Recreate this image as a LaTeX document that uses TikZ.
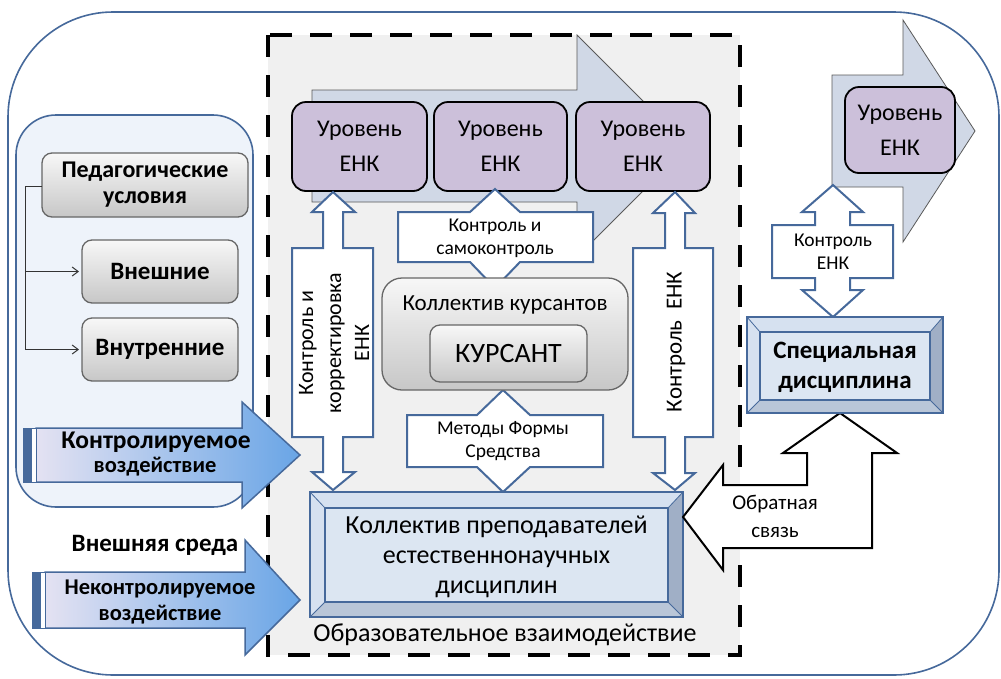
\documentclass[tikz,border=0pt]{standalone}
\usepackage{fontspec}
\setmainfont{Carlito}
\usetikzlibrary{arrows.meta,calc}
\definecolor{bl}{RGB}{70,105,155}
\definecolor{lav}{RGB}{204,192,218}
\definecolor{arrfill}{RGB}{208,216,230}
\definecolor{panel}{RGB}{238,243,250}
\definecolor{bevL}{RGB}{214,225,240}
\definecolor{bevR}{RGB}{160,175,198}
\definecolor{bevB}{RGB}{185,198,216}
\definecolor{innerbl}{RGB}{220,230,242}
\definecolor{blueA}{RGB}{105,165,230}
\definecolor{blueB}{RGB}{228,226,242}
\newcommand\fz[2]{\fontsize{#1}{#2}\selectfont}
\newcommand\mybevel[9]{%
  \fill[bevL] (#1,#2) -- (#3,#2) -- (#7,#6) -- (#5,#6) -- cycle;
  \fill[bevL] (#1,#2) -- (#5,#6) -- (#5,#8) -- (#1,#4) -- cycle;
  \fill[bevR] (#3,#2) -- (#3,#4) -- (#7,#8) -- (#7,#6) -- cycle;
  \fill[bevB] (#1,#4) -- (#3,#4) -- (#7,#8) -- (#5,#8) -- cycle;
  \draw[bl,line width=0.8pt] (#1,#2) -- (#5,#6) (#3,#2) -- (#7,#6) (#3,#4) -- (#7,#8) (#1,#4) -- (#5,#8);
  \draw[bl,line width=2pt] (#1,#2) rectangle (#3,#4);
  \draw[bl,line width=2pt,fill=innerbl] (#5,#6) rectangle (#7,#8);
  \coordinate (#9) at ($(#1,#2)!0.5!(#3,#4)$);
}
\tikzset{
  lvlbox/.style={draw=black, line width=1.8pt, fill=lav, rounded corners=14pt,
    inner sep=0pt, outer sep=0pt, align=center, font=\fz{24}{35}\selectfont},
  graybox/.style={draw=black!60, line width=1.3pt, rounded corners=10pt,
    top color=black!3, bottom color=black!22, inner sep=0pt, outer sep=0pt,
    align=center},
  bigarrow/.style={fill=arrfill, draw=black!65, line width=0.8pt},
  dblarrow/.style={fill=white, draw=bl, line width=2pt, line join=miter},
  bluearrow/.style={left color=blueB, right color=blueA, draw=bl, line width=1.5pt},
  txt/.style={inner sep=0pt, align=center},
}
\begin{document}
\begin{tikzpicture}[x=1pt,y=-1pt]
\useasboundingbox (0,0) rectangle (1001,678);
% outer frame
\draw[bl, line width=1.6pt, fill=white, rounded corners=105pt] (8,12) rectangle (999,675);
% left panel
\draw[bl, line width=1.6pt, fill=panel, rounded corners=40pt] (16,115) rectangle (253,507);
% dashed area
\fill[black!6] (268,35) rectangle (740,655);
\draw[black, line width=4pt, dash pattern=on 22pt off 18pt] (268,35) rectangle (740,655);
% big background arrows
\draw[bigarrow] (312,90) -- (577,90) -- (577,35) -- (688,146) -- (577,257) -- (577,202) -- (312,202) -- cycle;
\draw[bigarrow] (832,75) -- (903,75) -- (903,20) -- (975,131) -- (903,242) -- (903,187) -- (832,187) -- cycle;
% level boxes
\node[lvlbox, minimum width=135pt, minimum height=89pt] (lvl1) at (359.5,146.5) {Уровень\\ЕНК};
\node[lvlbox, minimum width=133pt, minimum height=89pt] (lvl2) at (500.5,146.5) {Уровень\\ЕНК};
\node[lvlbox, minimum width=134pt, minimum height=89pt] (lvl3) at (643,146.5) {Уровень\\ЕНК};
\node[lvlbox, minimum width=110pt, minimum height=86pt] (lvl4) at (900,130) {Уровень\\ЕНК};
% double arrows inside
\draw[dblarrow] (333,192) -- (355,212) -- (343,212) -- (343,248) -- (373,248) -- (373,437) -- (343,437) -- (343,472) -- (355,472) -- (333,490) -- (312,472) -- (323,472) -- (323,437) -- (292,437) -- (292,248) -- (323,248) -- (323,212) -- (312,212) -- cycle;
\node[txt, rotate=90, font=\fz{22}{28}\selectfont] (kk) at (334,343) {Контроль и\\корректировка\\ЕНК};
\draw[dblarrow] (675,192) -- (695,213) -- (685,213) -- (685,248) -- (713,248) -- (713,437) -- (685,437) -- (685,473) -- (695,473) -- (675,490) -- (653,473) -- (665,473) -- (665,437) -- (633,437) -- (633,248) -- (665,248) -- (665,213) -- (653,213) -- cycle;
\node[txt, rotate=90, font=\fz{23}{28}\selectfont] (ke) at (676,342) {Контроль\ \ ЕНК};
\draw[dblarrow] (495,189) -- (520,212) -- (593,212) -- (593,262) -- (520,262) -- (495,288) -- (470,262) -- (398,262) -- (398,212) -- (470,212) -- cycle;
\node[txt, font=\fz{19.5}{23}\selectfont] (ks) at (495,238) {Контроль и\\самоконтроль};
\draw[dblarrow] (503,390) -- (530,415) -- (603,415) -- (603,467) -- (530,467) -- (503,492) -- (477,467) -- (407,467) -- (407,415) -- (477,415) -- cycle;
\node[txt, font=\fz{19.5}{23}\selectfont] (mf) at (503,441) {Методы Формы\\Средства};
% cadets
\node[graybox, rounded corners=20pt, minimum width=246pt, minimum height=112pt] (kurs) at (505,334) {};
\node[txt, font=\fz{23}{26}\selectfont] at (505,305) {Коллектив курсантов};
\node[graybox, minimum width=157pt, minimum height=57pt, font=\fz{28}{30}\selectfont] (kursant) at (508.5,353.5) {КУРСАНТ};
% teachers
\mybevel{310}{492}{683}{617}{325}{508}{668}{602}{prep}
\node[txt, font=\fz{26}{30}\selectfont] at (496.5,557) {Коллектив преподавателей\\естественнонаучных\\дисциплин};
\node[txt, font=\fz{26}{28}\selectfont] at (505,635) {Образовательное взаимодействие};
% feedback arrow
\draw[black, line width=2pt, fill=white, line join=miter] (683,517) -- (723,465) -- (723,485) -- (807,485) -- (807,453) -- (783,453) -- (840,413) -- (897,453) -- (872,453) -- (872,548) -- (723,548) -- (723,570) -- cycle;
\node[txt, font=\fz{21}{28}\selectfont] at (775,516) {Обратная\\связь};
% special discipline
\draw[dblarrow] (833,185) -- (863,212) -- (850,212) -- (850,225) -- (893,225) -- (893,278) -- (850,278) -- (850,290) -- (863,290) -- (833,317) -- (802,290) -- (815,290) -- (815,278) -- (772,278) -- (772,225) -- (815,225) -- (815,212) -- (802,212) -- cycle;
\node[txt, font=\fz{19.5}{23}\selectfont] at (833,252) {Контроль\\ЕНК};
\mybevel{747}{317}{943}{413}{760}{332}{930}{400}{spec}
\node[txt, font=\bfseries\fz{25}{30}\selectfont] at (845,367) {Специальная\\дисциплина};
% pedagogical conditions
\node[graybox, minimum width=206pt, minimum height=64pt, font=\bfseries\fz{24}{26}\selectfont] (ped) at (145,185) {Педагогические\\условия};
\node[graybox, minimum width=156pt, minimum height=63pt, font=\bfseries\fz{25}{26}\selectfont] (vnesh) at (160,271.5) {Внешние};
\node[graybox, minimum width=156pt, minimum height=63pt, font=\bfseries\fz{25}{26}\selectfont] (vnutr) at (160,349.5) {Внутренние};
\coordinate (corner) at (25,186);
\draw[black!80, line width=1pt, -{Straight Barb[length=6pt,width=9pt]}, shorten >=3pt] (ped.west |- corner) -- (corner) |- (vnutr.west);
\draw[black!80, line width=1pt, -{Straight Barb[length=6pt,width=9pt]}, shorten >=3pt] (corner |- vnesh.west) -- (vnesh.west);
% controlled influence
\draw[bluearrow] (36,428) -- (242,428) -- (242,402) -- (300,455) -- (242,508) -- (242,482) -- (36,482) -- cycle;
\draw[bl, fill=bl, line width=1pt] (23,428) rectangle (31,482);
\draw[bl, fill=white, line width=1pt] (31,428) rectangle (36,482);
\node[txt, font=\bfseries\fz{25.5}{28}\selectfont] at (156,442) {Контролируемое};
\node[txt, font=\bfseries\fz{22.5}{24}\selectfont] at (155,467) {воздействие};
% external environment
\node[txt, font=\bfseries\fz{25}{28}\selectfont] at (155,545) {Внешняя среда};
\draw[bluearrow] (45,572) -- (245,572) -- (245,540) -- (300,600) -- (245,655) -- (245,628) -- (45,628) -- cycle;
\draw[bl, fill=bl, line width=1pt] (32,572) rectangle (40,628);
\draw[bl, fill=white, line width=1pt] (40,572) rectangle (45,628);
\node[txt, font=\bfseries\fz{22.5}{26}\selectfont] at (160,589) {Неконтролируемое};
\node[txt, font=\bfseries\fz{22.5}{26}\selectfont] at (160,615) {воздействие};
\end{tikzpicture}
\end{document}
